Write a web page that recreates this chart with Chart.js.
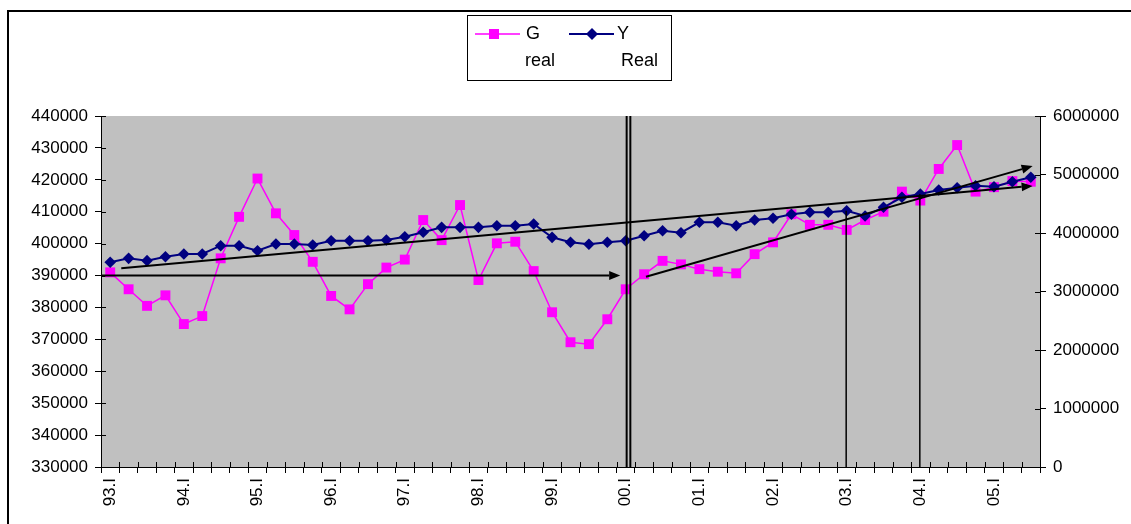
<!DOCTYPE html>
<html>
<head>
<meta charset="utf-8">
<title>G real / Y Real</title>
<script src="https://cdn.jsdelivr.net/npm/chart.js@4.4.1/dist/chart.umd.min.js"></script>
<style>
  html, body { margin: 0; padding: 0; background: #fff; }
</style>
</head>
<body>
<canvas id="graph" width="1131" height="524"></canvas>
<script>
// trimestres 93.I -> 05.III
const trimestres = [
  '93.I','93.II','93.III','93.IV', '94.I','94.II','94.III','94.IV',
  '95.I','95.II','95.III','95.IV', '96.I','96.II','96.III','96.IV',
  '97.I','97.II','97.III','97.IV', '98.I','98.II','98.III','98.IV',
  '99.I','99.II','99.III','99.IV', '00.I','00.II','00.III','00.IV',
  '01.I','01.II','01.III','01.IV', '02.I','02.II','02.III','02.IV',
  '03.I','03.II','03.III','03.IV', '04.I','04.II','04.III','04.IV',
  '05.I','05.II','05.III'
];

// G real (axe de gauche)
const gReal = [
  391000, 385700, 380500, 383800, 374800, 377300, 395400, 408400,
  420400, 409500, 402700, 394300, 383600, 379400, 387300, 392500,
  395000, 407400, 401100, 412100, 388600, 400100, 400600, 391400,
  378500, 369100, 368500, 376300, 385700, 390400, 394600, 393500,
  392000, 391200, 390700, 396700, 400400, 409200, 405900, 405900,
  404300, 407400, 410000, 416300, 413500, 423400, 430900, 416300,
  417700, 419600, 419400
];

// Y Real (axe de droite)
const yReal = [
  3499000, 3567000, 3527000, 3595000, 3641000, 3641000, 3783000, 3783000,
  3697000, 3812000, 3812000, 3795000, 3868000, 3868000, 3868000, 3880000,
  3937000, 4012000, 4097000, 4097000, 4097000, 4125000, 4125000, 4154000,
  3926000, 3841000, 3807000, 3841000, 3868000, 3954000, 4039000, 4005000,
  4183000, 4183000, 4125000, 4222000, 4251000, 4320000, 4354000, 4354000,
  4381000, 4291000, 4439000, 4610000, 4667000, 4735000, 4774000, 4808000,
  4791000, 4877000, 4952000
];

const legendeG = ['G', 'real'];
const legendeY = ['Y', 'Real'];

// fleches tracees a la main (index du trimestre, valeur axe gauche)
const fleches = [
  [[-0.5, 390000], [27.7, 390000]],
  [[0.6, 392300], [50.1, 418100]],
  [[29.1, 389600], [50.1, 424300]]
];
// double trait vertical (rupture 00.I)
const doubleTrait = [28.05, 28.25];
// traits verticaux qui tombent des points Y
const traitsY = [40, 44];

const police = "'Liberation Sans', Arial, sans-serif";

function fleche(ctx, x1, y1, x2, y2) {
  const ang = Math.atan2(y2 - y1, x2 - x1);
  const lg = 11, lr = 4.5;
  const bx = x2 - lg * Math.cos(ang), by = y2 - lg * Math.sin(ang);
  ctx.beginPath();
  ctx.moveTo(x1, y1);
  ctx.lineTo(bx, by);
  ctx.stroke();
  ctx.beginPath();
  ctx.moveTo(x2, y2);
  ctx.lineTo(bx + lr * Math.sin(ang), by - lr * Math.cos(ang));
  ctx.lineTo(bx - lr * Math.sin(ang), by + lr * Math.cos(ang));
  ctx.closePath();
  ctx.fill();
}

const decor = {
  id: 'decor',
  beforeDraw(chart) {
    const ctx = chart.ctx, a = chart.chartArea;
    ctx.save();
    ctx.fillStyle = '#fff';
    ctx.fillRect(0, 0, chart.width, chart.height);
    ctx.fillStyle = '#c0c0c0';
    ctx.fillRect(a.left, a.top, a.right - a.left, a.bottom - a.top);
    ctx.restore();
  },
  beforeDatasetsDraw(chart) {
    // petites graduations vers l'interieur
    const ctx = chart.ctx, a = chart.chartArea;
    const sx = chart.scales.x, sy = chart.scales.y, sy1 = chart.scales.y1;
    ctx.save();
    ctx.strokeStyle = '#000';
    ctx.lineWidth = 1;
    ctx.beginPath();
    for (let i = 0; i <= trimestres.length; i++) {
      const px = Math.round(sx.getPixelForValue(i - 0.5)) + 0.5;
      ctx.moveTo(px, a.bottom);
      ctx.lineTo(px, a.bottom - 5);
    }
    sy.ticks.forEach((t, i) => {
      const py = Math.round(sy.getPixelForTick(i)) + 0.5;
      ctx.moveTo(a.left, py);
      ctx.lineTo(a.left + 5, py);
    });
    sy1.ticks.forEach((t, i) => {
      const py = Math.round(sy1.getPixelForTick(i)) + 0.5;
      ctx.moveTo(a.right, py);
      ctx.lineTo(a.right - 5, py);
    });
    ctx.stroke();
    ctx.restore();
  },
  afterDatasetsDraw(chart) {
    const ctx = chart.ctx, a = chart.chartArea;
    const sx = chart.scales.x, sy = chart.scales.y, sy1 = chart.scales.y1;
    ctx.save();
    ctx.strokeStyle = '#000';
    ctx.fillStyle = '#000';
    ctx.lineWidth = 2;
    fleches.forEach(f => {
      fleche(ctx,
        sx.getPixelForValue(f[0][0]), sy.getPixelForValue(f[0][1]),
        sx.getPixelForValue(f[1][0]), sy.getPixelForValue(f[1][1]));
    });
    doubleTrait.forEach(v => {
      const px = sx.getPixelForValue(v);
      ctx.beginPath();
      ctx.moveTo(px, a.top);
      ctx.lineTo(px, a.bottom);
      ctx.stroke();
    });
    ctx.lineWidth = 1.5;
    traitsY.forEach(i => {
      const px = sx.getPixelForValue(i) - 0.5;
      ctx.beginPath();
      ctx.moveTo(px, sy1.getPixelForValue(yReal[i]));
      ctx.lineTo(px, a.bottom);
      ctx.stroke();
    });
    ctx.restore();
  },
  afterDraw(chart) {
    const ctx = chart.ctx;
    ctx.save();
    // cadre exterieur
    ctx.strokeStyle = '#000';
    ctx.lineWidth = 2;
    ctx.beginPath();
    ctx.moveTo(8, chart.height);
    ctx.lineTo(8, 11);
    ctx.lineTo(chart.width, 11);
    ctx.stroke();

    // legende
    ctx.lineWidth = 1;
    ctx.strokeRect(467.5, 15.5, 204, 65);
    const ds = chart.data.datasets;
    // G
    ctx.strokeStyle = ds[0].borderColor;
    ctx.lineWidth = 1.5;
    ctx.beginPath(); ctx.moveTo(475, 34); ctx.lineTo(520, 34); ctx.stroke();
    ctx.fillStyle = ds[0].backgroundColor;
    ctx.fillRect(489, 29, 10, 10);
    // Y
    ctx.strokeStyle = ds[1].borderColor;
    ctx.lineWidth = 2;
    ctx.beginPath(); ctx.moveTo(569, 34); ctx.lineTo(614, 34); ctx.stroke();
    ctx.fillStyle = ds[1].backgroundColor;
    ctx.beginPath();
    ctx.moveTo(592, 28); ctx.lineTo(598, 34); ctx.lineTo(592, 40); ctx.lineTo(586, 34);
    ctx.closePath(); ctx.fill();

    ctx.fillStyle = '#000';
    ctx.font = '18px ' + police;
    ctx.textBaseline = 'middle';
    ctx.fillText(legendeG[0], 526, 34);
    ctx.fillText(legendeG[1], 525, 61);
    ctx.fillText(legendeY[0], 617, 34);
    ctx.fillText(legendeY[1], 621, 61);
    ctx.restore();
  }
};

new Chart(document.getElementById('graph'), {
  type: 'line',
  data: {
    labels: trimestres,
    datasets: [{
      label: 'G real',
      data: gReal,
      yAxisID: 'y',
      borderColor: '#ff00ff',
      backgroundColor: '#ff00ff',
      borderWidth: 1.5,
      pointStyle: 'rect',
      pointRadius: 7,
      pointBorderWidth: 0,
      tension: 0,
      order: 1
    }, {
      label: 'Y Real',
      data: yReal,
      yAxisID: 'y1',
      borderColor: '#000080',
      backgroundColor: '#000080',
      borderWidth: 2,
      pointStyle: 'rectRot',
      pointRadius: 5.8,
      pointBorderWidth: 0,
      tension: 0,
      order: 0
    }]
  },
  options: {
    responsive: false,
    animation: false,
    events: [],
    layout: { padding: { top: 116, left: 0, right: 0, bottom: 0 } },
    plugins: {
      legend: { display: false },
      tooltip: { enabled: false }
    },
    scales: {
      x: {
        offset: true,
        grid: { offset: true, drawOnChartArea: false, color: '#000', tickLength: 6 },
        border: { color: '#000', width: 1 },
        ticks: {
          autoSkip: false,
          minRotation: 90,
          maxRotation: 90,
          padding: 5,
          color: '#000',
          font: { family: police, size: 17 },
          callback: function(v) {
            const lbl = this.getLabelForValue(v);
            return lbl.endsWith('.I') ? lbl : '';
          }
        },
        afterFit: s => { s.height = 57; }
      },
      y: {
        position: 'left',
        min: 330000,
        max: 440000,
        grid: { drawOnChartArea: false, color: '#000', tickLength: 6 },
        border: { color: '#000', width: 1 },
        ticks: {
          stepSize: 10000,
          padding: 7,
          color: '#000',
          font: { family: police, size: 17 },
          callback: v => String(v)
        },
        afterFit: s => { s.width = 101; }
      },
      y1: {
        position: 'right',
        min: 0,
        max: 6000000,
        grid: { drawOnChartArea: false, color: '#000', tickLength: 6 },
        border: { color: '#000', width: 1 },
        ticks: {
          stepSize: 1000000,
          padding: 7,
          color: '#000',
          font: { family: police, size: 17 },
          callback: v => String(v)
        },
        afterFit: s => { s.width = 91; }
      }
    }
  },
  plugins: [decor]
});
</script>
</body>
</html>
